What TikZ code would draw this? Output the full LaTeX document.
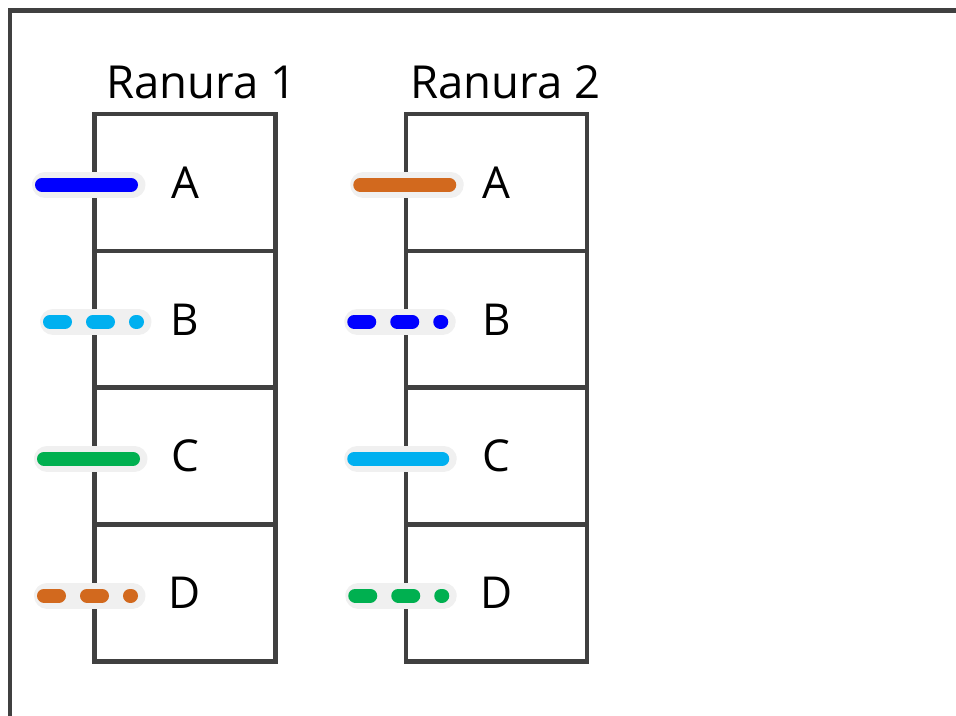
\documentclass[tikz,border=0pt]{standalone}
\usepackage{fontspec}
\setmainfont{Open Sans}
\usepackage{tikz}
\usetikzlibrary{positioning}
\definecolor{framegray}{HTML}{404040}
\definecolor{haze}{HTML}{F0F0F0}
\definecolor{cblue}{HTML}{0000FF}
\definecolor{cskyblue}{HTML}{00B0F0}
\definecolor{cgreen}{HTML}{00B050}
\definecolor{corange}{HTML}{D2691E}
\tikzstyle{cell} = [rectangle, draw=framegray, line width=4.5pt, minimum width=181pt, minimum height=136.9pt, outer sep=0pt, inner sep=0pt, font=\fontsize{44}{52}\selectfont]
\tikzstyle{slotname} = [anchor=base west, inner sep=0pt, font=\fontsize{45.5}{54}\selectfont]
\tikzstyle{sleeve} = [line width=26pt, line cap=round, draw=haze]
\tikzstyle{wire} = [line width=14pt, line cap=round]
\tikzstyle{dashwire} = [wire, dash pattern=on 15pt off 28pt]
% grey sleeve first, then the coloured wire over it
\newcommand{\cable}[5]{%
  \draw[sleeve] ([xshift=#2pt+3pt, yshift=-2.5pt]#1.west) -- ([xshift=#3pt+1.5pt, yshift=-2.5pt]#1.west);
  \draw[#5, draw=#4] ([xshift=#2pt, yshift=-2.5pt]#1.west) -- ([xshift=#3pt, yshift=-2.5pt]#1.west);
}
\begin{document}
\begin{tikzpicture}[x=1pt,y=1pt]
                    \useasboundingbox (0,0) rectangle (956,715);
                    \draw [framegray, line width=4.5pt] (9.8,-5) -- (9.8,704.5) -- (961,704.5);
                    % slot 1
                    \node [cell] (s1a) at (185,532.6) {A};
                    \node [cell, below=0pt of s1a] (s1b) {B};
                    \node [cell, below=0pt of s1b] (s1c) {C};
                    \node [cell, below=0pt of s1c] (s1d) {D};
                    \node [slotname] (r1) at ([xshift=11.5pt, yshift=15pt]s1a.north west) {Ranura 1};
                    % slot 2
                    \node [cell] (s2a) at (496.25,532.6) {A};
                    \node [cell, below=0pt of s2a] (s2b) {B};
                    \node [cell, below=0pt of s2b] (s2c) {C};
                    \node [cell, below=0pt of s2c] (s2d) {D};
                    \node [slotname] (r2) at ([xshift=4.5pt, yshift=15pt]s2a.north west) {Ranura 2};
                    % cables
                    \cable{s1a}{-52.5}{36.5}{cblue}{wire}
                    \cable{s1b}{-44.5}{42.5}{cskyblue}{dashwire}
                    \cable{s1c}{-50.5}{38.5}{cgreen}{wire}
                    \cable{s1d}{-50.5}{36.5}{corange}{dashwire}
                    \cable{s2a}{-45.5}{43.5}{corange}{wire}
                    \cable{s2b}{-51.5}{35.5}{cblue}{dashwire}
                    \cable{s2c}{-51.5}{36.5}{cskyblue}{wire}
                    \cable{s2d}{-50.5}{36.5}{cgreen}{dashwire}
                \end{tikzpicture}
\end{document}
